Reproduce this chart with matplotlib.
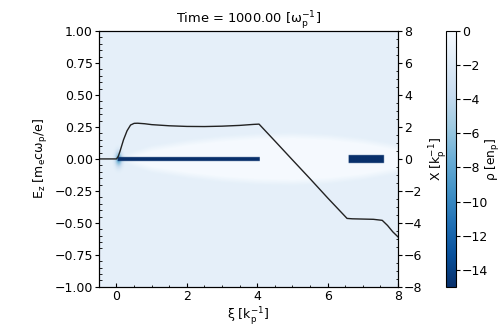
import numpy as np
import matplotlib
matplotlib.use('Agg')
import matplotlib.pyplot as plt

plt.rcParams['font.size'] = 9

# Ez on-axis lineout (left axis)
xi_line = [-0.5, 0.0, 0.05, 0.1, 0.2, 0.3, 0.4, 0.5, 0.6, 0.8, 1.0, 1.5, 2.0, 2.5, 3.0, 3.5,
           3.9, 4.05, 4.5, 5.0, 5.5, 6.0, 6.55, 6.7, 7.0, 7.3, 7.55, 7.7, 7.85, 8.0]
ez_line = [0.0, 0.0, 0.02, 0.06, 0.15, 0.22, 0.265, 0.278, 0.279, 0.275, 0.268, 0.259, 0.254,
           0.253, 0.256, 0.262, 0.27, 0.272, 0.14, -0.008, -0.155, -0.305, -0.465, -0.468,
           -0.47, -0.472, -0.48, -0.52, -0.57, -0.61]

# bubble (wake) boundary radius along xi
xi_bub = [0.0, 0.5, 1.0, 2.0, 3.0, 4.0, 5.0, 6.0, 7.0, 7.5, 8.0]
r_bub = [0.0, 0.5, 0.85, 1.2, 1.45, 1.6, 1.65, 1.55, 1.3, 1.1, 0.9]

# charge density levels [en_p]
rho_bg = -1.3
rho_in = -0.15
rho_beam = -15.5

# beams: xi start, xi end, half width
drive = (0.02, 4.05, 0.13)
witness = (6.58, 7.58, 0.24)

xi = np.linspace(-0.5, 8, 500)
X = np.linspace(-8, 8, 640)
XI, XX = np.meshgrid(xi, X)
R = np.interp(XI, xi_bub, r_bub, left=0, right=0)
d = R - np.abs(XX)
w = np.clip(d / 0.4, 0, 1)
rho = rho_bg + (rho_in - rho_bg) * w
# beam head glow
head = np.exp(-((XI - 0.05) / 0.1) ** 2 - (XX / 0.45) ** 2)
rho = rho - 7 * head
for a, b, h in (drive, witness):
    m = (XI >= a) & (XI <= b) & (np.abs(XX) <= h)
    rho[m] = rho_beam

fig = plt.figure(figsize=(5.02, 3.26), dpi=100)
ax = fig.add_axes([0.197, 0.120, 0.596, 0.785])
ax2 = ax.twinx()
im = ax2.imshow(rho, extent=[-0.5, 8, -8, 8], origin='lower', aspect='auto',
                cmap='Blues_r', vmin=-15, vmax=0, interpolation='bilinear')
ax2.set_ylim(-8, 8)
ax2.set_ylabel(r'X [k$_\mathregular{p}^{-1}$]', labelpad=3)

ax.set_zorder(ax2.get_zorder() + 1)
ax.patch.set_visible(False)
ax.plot(xi_line, ez_line, color='#222222', lw=1.0)
ax.set_xlim(-0.5, 8)
ax.set_ylim(-1, 1)
ax.set_xlabel(r'ξ [k$_\mathregular{p}^{-1}$]', labelpad=1)
ax.set_ylabel(r'E$_\mathregular{z}$ [m$_\mathregular{e}$cω$_\mathregular{p}$/e]', labelpad=3)
ax.set_title(r'Time = 1000.00 [ω$_\mathregular{p}^{-1}$]', fontsize=9.4)

for a_ in (ax, ax2):
    a_.minorticks_on()
    a_.tick_params(axis='y', which='major', direction='out', length=2.8, pad=1.5)
    a_.tick_params(axis='y', which='minor', direction='in', length=1.8)
    a_.tick_params(axis='x', which='major', direction='in', length=3, pad=2.5)
    a_.tick_params(axis='x', which='minor', direction='in', length=1.8)

cax = fig.add_axes([0.888, 0.120, 0.020, 0.785])
cb = fig.colorbar(im, cax=cax, ticks=np.arange(0, -15, -2))
cb.ax.tick_params(length=2.8, pad=1.5)
cb.set_label(r'ρ [en$_\mathregular{p}$]', labelpad=-3, fontsize=8.8)

fig.savefig('out.png', dpi=100)
